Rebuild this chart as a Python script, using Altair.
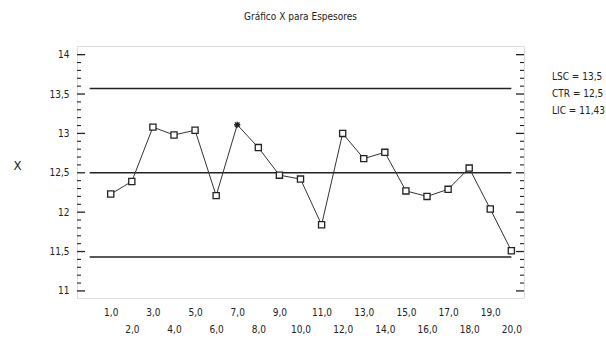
import altair as alt
import pandas as pd

# ---- data ----
muestras = list(range(1, 21))
medias = [12.23, 12.39, 13.08, 12.98, 13.04, 12.21, 13.11, 12.82, 12.47, 12.42,
          11.84, 13.00, 12.68, 12.76, 12.27, 12.20, 12.29, 12.56, 12.04, 11.51]
marcador = ["normal"] * 20
marcador[6] = "fuera"

limites_nombre = ["LSC = 13,5", "CTR = 12,5", "LIC = 11,43"]
limites_valor = [13.57, 12.5, 11.43]
limites_x0 = [0, 0, 0]
limites_x1 = [20, 20, 20]

ticks_mayores = [11.0, 11.5, 12.0, 12.5, 13.0, 13.5, 14.0]
ticks_menores = [11.1, 11.2, 11.3, 11.4, 11.6, 11.7, 11.8, 11.9,
                 12.1, 12.2, 12.3, 12.4, 12.6, 12.7, 12.8, 12.9,
                 13.1, 13.2, 13.3, 13.4, 13.6, 13.7, 13.8, 13.9]

FONT = "'Liberation Sans Narrow', 'DejaVu Sans Condensed', 'Liberation Sans', sans-serif"
W, H = 447, 252

df = pd.DataFrame({"muestra": muestras, "media": medias, "marcador": marcador})
dl = pd.DataFrame({"nombre": limites_nombre, "valor": limites_valor,
                   "x0": limites_x0, "x1": limites_x1})
dmay = pd.DataFrame({"t": ticks_mayores})
dmen = pd.DataFrame({"t": ticks_menores})

xscale = alt.Scale(domain=[-0.6, 20.6], nice=False, zero=False)
yscale = alt.Scale(domain=[10.91, 14.11], nice=False, zero=False)

x_axis = alt.Axis(
    values=muestras, ticks=False, domain=False, grid=False, title=None,
    labelOverlap=False, labelFlush=False,
    labelExpr="datum.value % 2 == 0 ? ['', replace(format(datum.value, '.1f'), '.', ',')] : replace(format(datum.value, '.1f'), '.', ',')",
    labelFont=FONT, labelFontSize=10, labelColor="#222", labelPadding=9,
    labelLineHeight=17, labelBaseline="top", labelAngle=0,
)
y_axis = alt.Axis(
    values=ticks_mayores, ticks=False, domain=False, grid=False,
    labelOverlap=False, labelFlush=False,
    labelExpr="replace(toString(datum.value), '.', ',')",
    labelFont=FONT, labelFontSize=10, labelColor="#222", labelPadding=8,
    title="X", titleFont=FONT, titleFontSize=13, titleFontWeight="normal",
    titleAngle=0, titleColor="#222", titlePadding=32,
)

lineas = alt.Chart(dl).mark_rule(color="#222", strokeWidth=1.4).encode(
    x=alt.X("x0:Q", scale=xscale, axis=x_axis),
    x2="x1:Q",
    y=alt.Y("valor:Q", scale=yscale, axis=y_axis),
    color=alt.Color("nombre:N",
                    scale=alt.Scale(domain=limites_nombre, range=["#222", "#222", "#222"]),
                    legend=alt.Legend(orient="none", legendX=W + 18, legendY=26, title=None,
                                      symbolSize=0, symbolOpacity=0, symbolStrokeWidth=0,
                                      labelOffset=0, padding=0, rowPadding=7,
                                      labelFont=FONT, labelFontSize=10, labelColor="#222")),
)

linea = alt.Chart(df).mark_line(color="#333", strokeWidth=1).encode(
    x=alt.X("muestra:Q", scale=xscale, axis=x_axis),
    y=alt.Y("media:Q", scale=yscale, axis=y_axis),
)

puntos = alt.Chart(df).mark_point(filled=False, strokeWidth=1.3, size=38, opacity=1,
                                  fill="white", fillOpacity=1).encode(
    x=alt.X("muestra:Q", scale=xscale, axis=x_axis),
    y=alt.Y("media:Q", scale=yscale, axis=y_axis),
    shape=alt.Shape("marcador:N", legend=None,
                    scale=alt.Scale(domain=["normal", "fuera"],
                                    range=["square",
                                           "M-1,0L1,0M0,-1L0,1M-0.75,-0.75L0.75,0.75M-0.75,0.75L0.75,-0.75"])),
    stroke=alt.value("#222"),
)

tmay_l = alt.Chart(dmay).mark_rule(color="#222", strokeWidth=1.3).encode(
    y=alt.Y("t:Q", scale=yscale, axis=y_axis), x=alt.value(0), x2=alt.value(8))
tmen_l = alt.Chart(dmen).mark_rule(color="#222", strokeWidth=1.1).encode(
    y=alt.Y("t:Q", scale=yscale, axis=y_axis), x=alt.value(0), x2=alt.value(4))
tmay_r = alt.Chart(dmay).mark_rule(color="#222", strokeWidth=1.3).encode(
    y=alt.Y("t:Q", scale=yscale, axis=y_axis), x=alt.value(W), x2=alt.value(W - 8))
tmen_r = alt.Chart(dmen).mark_rule(color="#222", strokeWidth=1.1).encode(
    y=alt.Y("t:Q", scale=yscale, axis=y_axis), x=alt.value(W), x2=alt.value(W - 4))

chart = alt.layer(lineas, linea, puntos, tmay_l, tmen_l, tmay_r, tmen_r).properties(
    width=W, height=H,
    title=alt.TitleParams("Gráfico X para Espesores", font=FONT, fontSize=10,
                          fontWeight="normal", color="#222", offset=24, anchor="middle"),
    autosize=alt.AutoSizeParams(type="none"),
    padding={"left": 77, "top": 46, "right": 82, "bottom": 41},
).configure_view(stroke="#222", strokeWidth=1.6).configure_axis(
    labelOverlap=False, labelBound=False
).configure(background="white")

chart.save("out.html", embed_options={"renderer": "svg", "actions": False})
